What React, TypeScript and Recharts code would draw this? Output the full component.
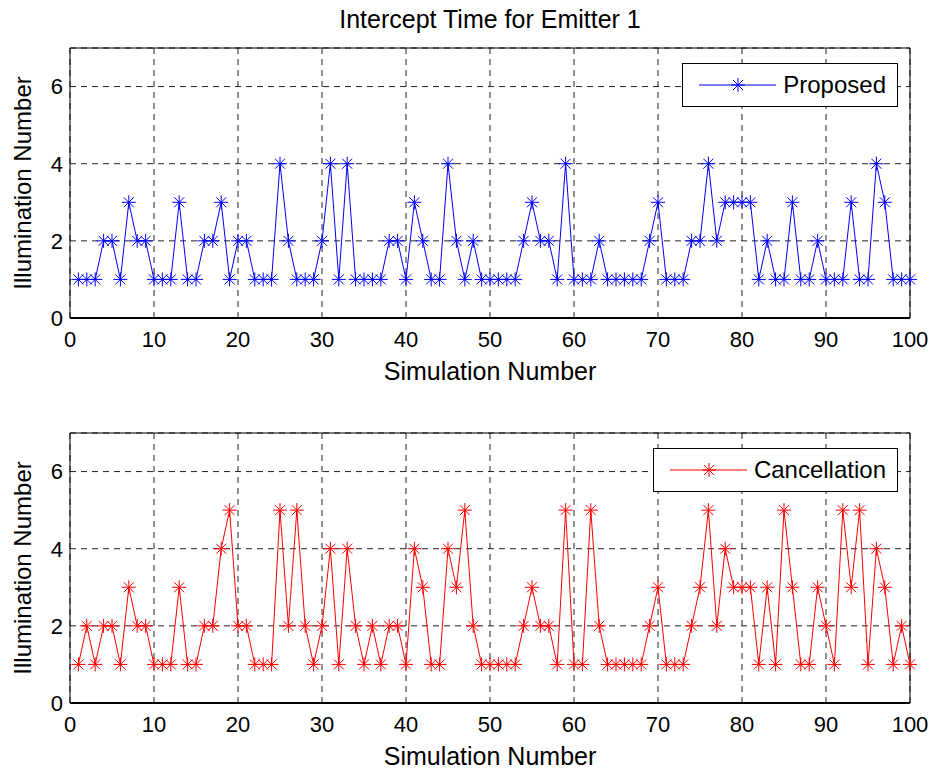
import React from "react";
import { LineChart, Line, XAxis, YAxis, CartesianGrid, ReferenceArea, Legend, Label } from "recharts";

const simulations = Array.from({ length: 100 }, (_, i) => i + 1);

const proposed = [
  1, 1, 1, 2, 2, 1, 3, 2, 2, 1,
  1, 1, 3, 1, 1, 2, 2, 3, 1, 2,
  2, 1, 1, 1, 4, 2, 1, 1, 1, 2,
  4, 1, 4, 1, 1, 1, 1, 2, 2, 1,
  3, 2, 1, 1, 4, 2, 1, 2, 1, 1,
  1, 1, 1, 2, 3, 2, 2, 1, 4, 1,
  1, 1, 2, 1, 1, 1, 1, 1, 2, 3,
  1, 1, 1, 2, 2, 4, 2, 3, 3, 3,
  3, 1, 2, 1, 1, 3, 1, 1, 2, 1,
  1, 1, 3, 1, 1, 4, 3, 1, 1, 1,
];

const cancellation = [
  1, 2, 1, 2, 2, 1, 3, 2, 2, 1,
  1, 1, 3, 1, 1, 2, 2, 4, 5, 2,
  2, 1, 1, 1, 5, 2, 5, 2, 1, 2,
  4, 1, 4, 2, 1, 2, 1, 2, 2, 1,
  4, 3, 1, 1, 4, 3, 5, 2, 1, 1,
  1, 1, 1, 2, 3, 2, 2, 1, 5, 1,
  1, 5, 2, 1, 1, 1, 1, 1, 2, 3,
  1, 1, 1, 2, 3, 5, 2, 4, 3, 3,
  3, 1, 3, 1, 5, 3, 1, 1, 3, 2,
  1, 5, 3, 5, 1, 4, 3, 1, 2, 1,
];

const xTicks = [0, 10, 20, 30, 40, 50, 60, 70, 80, 90, 100];
const yTicks = [0, 2, 4, 6];

const FONT = "'Liberation Sans', Arial, Helvetica, sans-serif";

// matlab style "*" marker
const Star = ({ cx, cy, color }: { cx: number; cy: number; color: string }) => (
  <g stroke={color} strokeWidth={1}>
    <line x1={cx - 7} x2={cx + 7} y1={cy} y2={cy} />
    <line x1={cx} x2={cx} y1={cy - 7} y2={cy + 7} />
    <line x1={cx - 5} x2={cx + 5} y1={cy - 5} y2={cy + 5} />
    <line x1={cx - 5} x2={cx + 5} y1={cy + 5} y2={cy - 5} />
  </g>
);

const LegendBox = ({ color, name }: { color: string; name: string }) => (
  <div
    style={{
      border: "1px solid #000",
      background: "#fff",
      height: 42,
      display: "flex",
      alignItems: "center",
      paddingRight: 11,
      fontFamily: FONT,
      fontSize: 24,
      color: "#000",
      whiteSpace: "nowrap",
    }}
  >
    <svg width={100} height={42} style={{ display: "block" }}>
      <line x1={16} x2={93} y1={21} y2={21} stroke={color} strokeWidth={1} />
      <Star cx={55} cy={21} color={color} />
    </svg>
    <span>{name}</span>
  </div>
);

interface PanelProps {
  values: number[];
  name: string;
  color: string;
  top: number;
}

const Panel = ({ values, name, color, top }: PanelProps) => {
  const rows = simulations.map((sim, i) => ({ sim, value: values[i] }));
  return (
    <div style={{ position: "absolute", left: 0, top }}>
      <LineChart width={938} height={388} data={rows} margin={{ top: 48, right: 28, left: 0, bottom: 40 }}>
        <CartesianGrid stroke="#222" strokeDasharray="6 5" strokeWidth={1} />
        <XAxis
          type="number"
          dataKey="sim"
          domain={[0, 100]}
          ticks={xTicks}
          height={30}
          tickLine={false}
          tickMargin={7}
          axisLine={{ stroke: "#000", strokeWidth: 2 }}
          tick={{ fill: "#000", fontSize: 22, fontFamily: FONT }}
          interval={0}
        >
          <Label
            content={({ viewBox }: any) => (
              <text
                x={viewBox.x + viewBox.width / 2}
                y={viewBox.y + 62}
                textAnchor="middle"
                fontSize={25}
                fontFamily={FONT}
                fill="#000"
              >
                Simulation Number
              </text>
            )}
          />
        </XAxis>
        <YAxis
          type="number"
          domain={[0, 7]}
          ticks={yTicks}
          width={70}
          tickLine={false}
          tickMargin={1}
          axisLine={false}
          tick={{ fill: "#000", fontSize: 22, fontFamily: FONT }}
          interval={0}
        >
          <Label
            content={({ viewBox }: any) => {
              const cy = viewBox.y + viewBox.height / 2;
              return (
                <text
                  x={31}
                  y={cy}
                  transform={`rotate(-90 31 ${cy})`}
                  textAnchor="middle"
                  fontSize={24}
                  fontFamily={FONT}
                  fill="#000"
                >
                  Illumination Number
                </text>
              );
            }}
          />
        </YAxis>
        <ReferenceArea x1={0} x2={100} y1={0} y2={7} fill="none" stroke="#000" strokeWidth={1} />
        <Line
          type="linear"
          dataKey="value"
          name={name}
          stroke={color}
          strokeWidth={1}
          isAnimationActive={false}
          dot={(props: any) => <Star key={props.index} cx={props.cx} cy={props.cy} color={color} />}
          activeDot={false}
        />
        <Legend
          layout="horizontal"
          verticalAlign="middle"
          align="center"
          content={() => <LegendBox color={color} name={name} />}
          wrapperStyle={{ top: 63, right: 40, left: "auto", bottom: "auto", width: "auto" }}
        />
      </LineChart>
    </div>
  );
};

export default function App() {
  return (
    <div style={{ position: "absolute", left: 0, top: 0, width: 938, height: 773, background: "#fff", fontFamily: FONT }}>
      <div
        style={{
          position: "absolute",
          left: 70,
          width: 840,
          top: 5,
          textAlign: "center",
          fontSize: 25,
          color: "#000",
          lineHeight: "normal",
        }}
      >
        Intercept Time for Emitter 1
      </div>
      <Panel values={proposed} name="Proposed" color="#0000ff" top={0} />
      <Panel values={cancellation} name="Cancellation" color="#ff0000" top={385} />
    </div>
  );
}
